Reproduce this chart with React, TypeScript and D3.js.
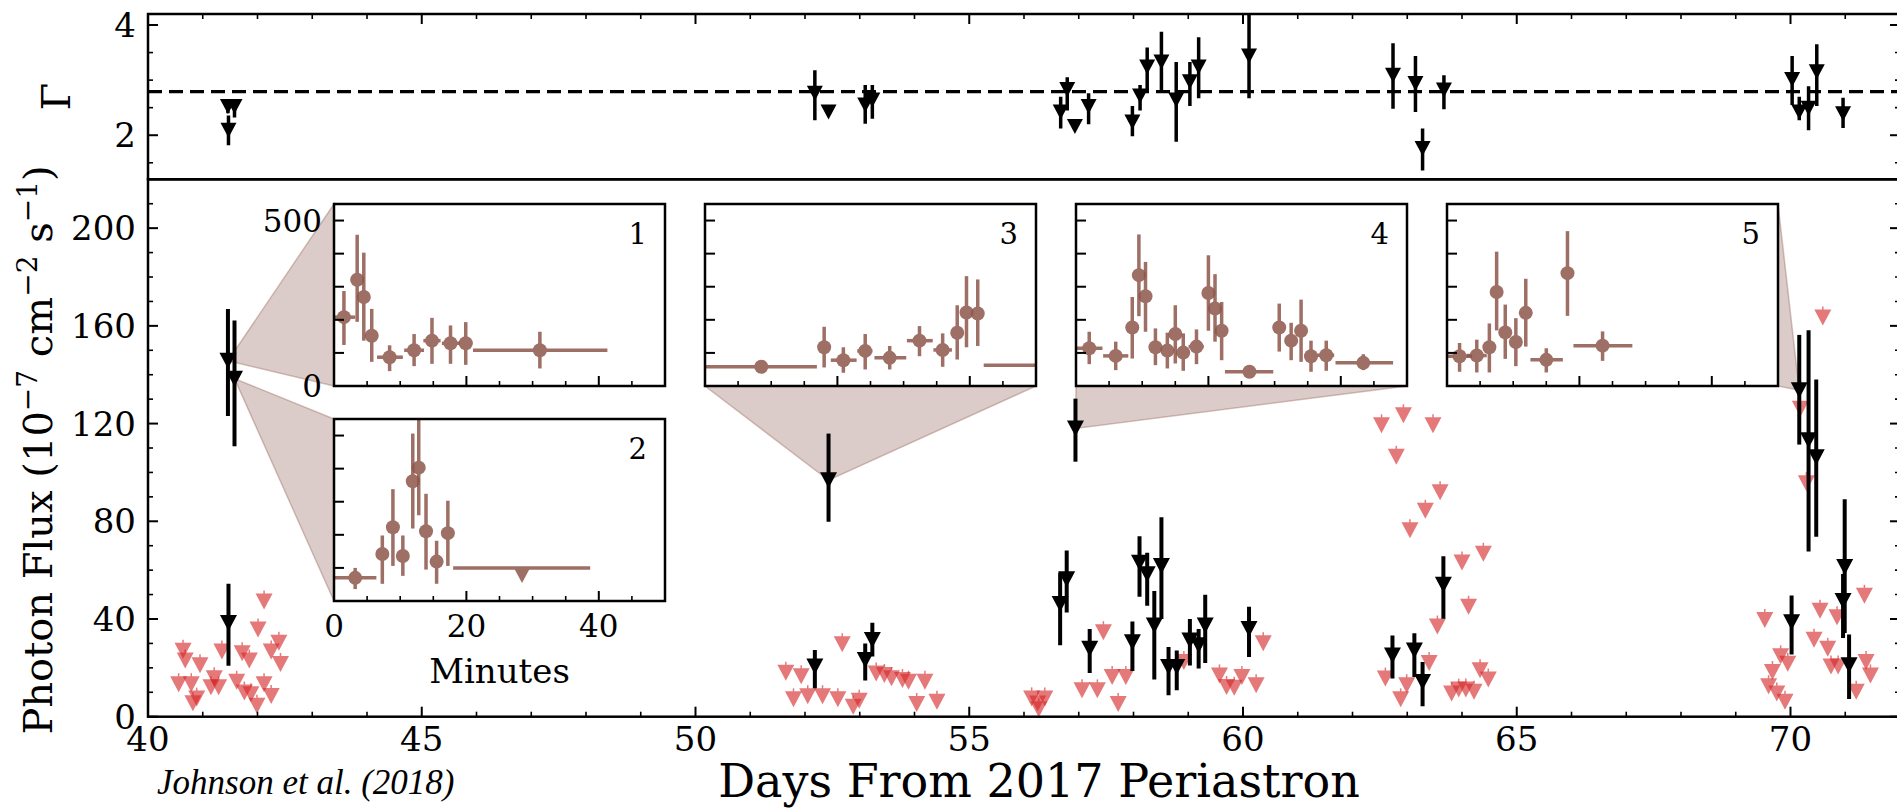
import React from "react";
import * as d3 from "d3";

// ---------- Photon index (top panel) ----------
const gammaDays = [41.46, 41.58, 41.47, 52.18, 52.43, 53.10, 53.23, 56.67, 56.79, 56.93, 57.18, 57.98, 58.12, 58.25, 58.51, 58.78, 59.03, 59.19, 60.11, 62.74, 63.15, 63.28, 63.67, 70.03, 70.16, 70.33, 70.48, 70.96];
const gammaValues = [2.52, 2.52, 2.09, 2.76, 2.42, 2.55, 2.64, 2.42, 2.83, 2.16, 2.52, 2.24, 2.71, 3.24, 3.33, 2.64, 2.97, 3.24, 3.44, 3.09, 2.94, 1.76, 2.82, 3.01, 2.42, 2.49, 3.15, 2.39];
const gammaLow = [2.40, 2.32, 1.82, 2.27, 2.42, 2.21, 2.30, 2.12, 2.45, 2.16, 2.20, 1.98, 2.45, 2.82, 2.82, 1.88, 2.53, 2.67, 2.67, 2.48, 2.42, 1.36, 2.47, 2.55, 2.27, 2.09, 2.53, 2.13];
const gammaHigh = [2.64, 2.64, 2.36, 3.18, 2.42, 2.91, 2.91, 2.70, 3.05, 2.16, 2.76, 2.53, 2.91, 3.59, 3.88, 3.33, 3.33, 3.78, 4.40, 3.67, 3.44, 2.12, 3.09, 3.44, 2.70, 2.89, 3.65, 2.68];
const gammaMean = 2.79;

// ---------- Detected photon flux (black) ----------
const fluxDays = [41.46, 41.58, 41.47, 52.18, 52.43, 53.10, 53.23, 56.66, 56.78, 56.94, 57.20, 57.98, 58.11, 58.25, 58.38, 58.51, 58.64, 58.79, 59.03, 59.19, 59.31, 60.11, 62.73, 63.13, 63.28, 63.66, 70.02, 70.16, 70.33, 70.47, 70.96, 70.99, 71.07];
const fluxValues = [145.7, 138.4, 38.4, 20.5, 96.8, 23.2, 31.4, 46.1, 56.3, 118.0, 27.8, 30.5, 63.0, 58.3, 37.3, 61.7, 20.3, 20.3, 31.2, 29.2, 37.3, 35.9, 25.1, 27.1, 14.2, 54.0, 38.7, 133.6, 113.2, 106.2, 47.4, 61.3, 21.1];
const fluxLow = [123.1, 110.7, 20.9, 11.6, 79.8, 14.8, 24.6, 29.2, 42.7, 104.4, 17.9, 18.7, 49.1, 45.4, 15.2, 40.0, 8.8, 10.8, 21.0, 19.7, 22.0, 24.4, 15.6, 16.3, 4.3, 40.1, 25.5, 111.4, 67.6, 73.7, 32.2, 34.3, 7.2];
const fluxHigh = [166.9, 162.2, 54.4, 27.3, 115.9, 30.0, 38.5, 59.0, 68.0, 130.2, 35.9, 39.0, 73.9, 67.1, 51.5, 81.6, 28.5, 27.1, 40.0, 35.9, 49.9, 45.0, 33.2, 34.2, 22.4, 65.7, 49.6, 156.3, 158.2, 138.0, 58.4, 89.0, 33.6];

// ---------- Upper limits (red) ----------
const limitDays = [
  40.64, 40.68, 40.95, 40.56, 40.79, 40.89, 40.82, 41.21, 41.29, 41.15, 41.35, 41.62, 41.72, 41.85, 41.76, 41.88, 41.99, 42.01, 42.12, 42.12, 42.25, 42.25, 42.39, 42.42,
  51.65, 51.93, 51.79, 52.05, 52.32, 52.60, 52.68, 52.88, 52.99, 53.30, 53.45, 53.58, 53.78, 53.89, 54.04, 54.19, 54.41,
  56.14, 56.25, 56.38, 56.27,
  57.06, 57.34, 57.45, 57.61, 57.86, 57.72, 58.92, 59.57, 59.70, 59.84, 59.98, 60.24, 60.37,
  62.53, 62.93, 63.47, 62.80, 63.60, 63.33, 63.05, 64.00, 64.39, 64.12, 63.55, 63.40, 62.60, 62.99, 62.88, 64.33, 64.48, 63.81, 63.94, 64.07, 64.22,
  69.53, 69.82, 69.95, 69.67, 69.60, 69.75, 69.90, 70.18, 70.29, 70.59, 70.54, 70.43, 70.68, 70.85, 70.74, 70.87, 71.35, 71.38, 71.46, 71.20,
];
const limitFlux = [
  27.0, 23.0, 21.1, 13.3, 13.3, 7.4, 5.5, 15.7, 12.1, 12.1, 26.7, 14.3, 26.0, 23.0, 9.9, 9.2, 4.5, 35.7, 47.2, 13.3, 26.7, 8.5, 30.3, 21.6,
  18.0, 16.6, 7.1, 8.4, 8.4, 7.1, 29.7, 4.1, 6.5, 17.7, 17.1, 15.7, 15.0, 14.3, 5.2, 14.3, 6.1,
  7.5, 5.4, 7.5, 3.0,
  10.8, 10.8, 34.6, 16.3, 16.3, 5.2, 22.4, 16.9, 12.2, 11.9, 16.3, 12.9, 30.1,
  119.3, 123.4, 119.3, 106.4, 91.9, 84.3, 76.3, 63.1, 66.7, 45.0, 36.9, 22.0, 15.6, 12.9, 7.1, 19.0, 15.2, 9.5, 11.1, 11.1, 10.2,
  39.6, 24.7, 21.7, 18.3, 12.5, 9.5, 6.1, 126.1, 95.6, 163.4, 43.4, 31.5, 27.8, 40.7, 20.6, 20.6, 49.5, 22.4, 16.9, 10.2,
];

// ---------- Zoomed light curves: [minute, minLo, minHi, flux, fluxLo, fluxHi] ----------
const curve1 = [
  [1.5, 0, 3.2, 208, 124, 287], [3.5, 3.5, 3.5, 321, 194, 457], [4.5, 4.5, 4.5, 269, 137, 403],
  [5.7, 5.7, 5.7, 152, 73, 233], [8.4, 6.5, 10.4, 87, 45, 123], [12.1, 10.6, 13.6, 108, 60, 157],
  [14.8, 13.5, 16.1, 137, 67, 206], [17.6, 16.3, 19.0, 129, 67, 183], [19.9, 19.0, 20.9, 129, 64, 193],
  [31.1, 21.0, 41.3, 108, 53, 164],
];
const curve2 = [
  [3.2, 0, 6.4, 70, 36, 100], [7.3, 7.3, 7.3, 142, 52, 198], [8.9, 8.9, 8.9, 223, 106, 338],
  [10.4, 10.4, 10.4, 136, 76, 198], [11.9, 11.9, 11.9, 362, 219, 506], [12.8, 12.8, 12.8, 403, 259, 600],
  [13.9, 13.9, 13.9, 211, 95, 324], [15.5, 15.5, 15.5, 119, 52, 182], [17.2, 17.2, 17.2, 205, 106, 303],
];
const curve2Limits = [[28.4, 18.0, 38.7, 100]];
const curve3 = [
  [8.5, -2, 16.9, 58, 52, 64], [18.0, 18.0, 18.0, 117, 56, 179], [20.9, 19.0, 22.9, 78, 40, 117],
  [24.2, 23.0, 25.3, 106, 50, 157], [27.9, 25.6, 30.4, 85, 50, 121], [32.4, 30.5, 34.4, 137, 90, 181],
  [35.9, 34.5, 37.3, 109, 58, 159], [38.1, 38.1, 38.1, 161, 80, 244], [39.5, 39.5, 39.5, 222, 117, 332],
  [41.2, 41.2, 41.2, 219, 121, 322], [56.0, 42.1, 70.0, 63, 63, 63],
];
const curve4 = [
  [2.0, 0, 4.0, 114, 66, 164], [6.0, 4.1, 7.9, 91, 48, 134], [8.5, 8.5, 8.5, 177, 83, 269],
  [9.5, 9.5, 9.5, 335, 211, 458], [10.5, 10.5, 10.5, 271, 164, 375], [12.0, 12.0, 12.0, 117, 63, 174],
  [13.8, 13.8, 13.8, 107, 53, 161], [15.0, 15.0, 15.0, 157, 68, 244], [16.2, 16.2, 16.2, 101, 46, 159],
  [18.2, 17.0, 19.3, 119, 66, 171], [20.0, 20.0, 20.0, 281, 167, 395], [21.0, 21.0, 21.0, 234, 134, 338],
  [22.0, 22.0, 22.0, 167, 78, 254], [26.2, 22.5, 29.8, 43, 38, 48], [30.7, 30.7, 30.7, 177, 104, 249],
  [32.5, 32.5, 32.5, 137, 78, 191], [34.0, 34.0, 34.0, 167, 73, 261], [35.5, 35.5, 35.5, 90, 43, 137],
  [37.8, 36.5, 39.0, 93, 46, 137], [43.4, 39.2, 47.9, 70, 48, 96],
];
const curve5 = [
  [1.9, 0, 3.8, 90, 43, 130], [4.5, 3.0, 6.0, 92, 41, 140], [6.4, 6.4, 6.4, 117, 41, 189],
  [7.5, 7.5, 7.5, 284, 168, 406], [8.8, 8.8, 8.8, 162, 82, 246], [10.4, 10.4, 10.4, 133, 60, 205],
  [11.9, 11.9, 11.9, 221, 119, 324], [15.0, 12.6, 17.5, 79, 41, 114], [18.2, 18.2, 18.2, 341, 212, 468],
  [23.5, 19.1, 28.0, 122, 76, 165],
];

// ---------- Tick labels ----------
const dayTicks = [40, 45, 50, 55, 60, 65, 70];
const fluxTicks = [0, 40, 80, 120, 160, 200];
const gammaTicks = [2, 4];
const minuteTicks = [0, 20, 40];
const insetFluxTicks = [0, 500];

// ---------- Layout ----------
const W = 1897;
const H = 809;
const L = 148;
const R = 1900;
const TOP = 14;
const SPLIT = 179.3;
const BOTTOM = 716.7;
const INSET_W = 331;
const INSET_H = 182;
const BLACK = "#000";
const RED = "#d62728";
const BROWN = "#8c564b";
const SERIF = "DejaVu Serif";

const x = d3.scaleLinear().domain([40, 72]).range([L, R]);
const yG = d3.scaleLinear().domain([1.2, 4.2]).range([SPLIT, TOP]);
const yF = d3.scaleLinear().domain([0, 220]).range([BOTTOM, SPLIT]);

// inset boxes: top-left corner, label, black point the zoom belongs to, wedge side
const insets = [
  { left: 334, top: 204, label: "1", data: curve1, limits: [], point: 0, side: "left" },
  { left: 334, top: 419, label: "2", data: curve2, limits: curve2Limits, point: 1, side: "left" },
  { left: 705, top: 204, label: "3", data: curve3, limits: [], point: 4, side: "bottom" },
  { left: 1076, top: 204, label: "4", data: curve4, limits: [], point: 9, side: "bottom" },
  { left: 1447, top: 204, label: "5", data: curve5, limits: [], point: 27, side: "right" },
];

const tri = (cx: number, cy: number, w: number, h: number) =>
  `M${cx - w / 2},${cy - h / 2}L${cx + w / 2},${cy - h / 2}L${cx},${cy + h / 2}Z`;

function Inset({ cfg, idx }: { cfg: any; idx: number }) {
  const { left, top } = cfg;
  const xs = d3.scaleLinear().domain([0, 50]).range([left, left + INSET_W]);
  const ys = d3.scaleLinear().domain([0, 550]).range([top + INSET_H, top]);
  const clipId = `inset-clip-${idx}`;
  const minorX = d3.range(5, 50, 5).filter((v) => v % 20 !== 0);
  const yTicks = d3.range(100, 501, 100);
  return (
    <g>
      <defs>
        <clipPath id={clipId}>
          <rect x={left} y={top} width={INSET_W} height={INSET_H} />
        </clipPath>
      </defs>
      <rect x={left} y={top} width={INSET_W} height={INSET_H} fill="#fff" />
      <g clipPath={`url(#${clipId})`}>
        {cfg.data.map((d: number[], i: number) => (
          <g key={i} opacity={0.85}>
            {d[1] !== d[2] && (
              <line x1={xs(d[1])} x2={xs(d[2])} y1={ys(d[3])} y2={ys(d[3])} stroke={BROWN} strokeWidth={3.5} />
            )}
            {d[4] !== d[5] && (
              <line x1={xs(d[0])} x2={xs(d[0])} y1={ys(d[4])} y2={ys(d[5])} stroke={BROWN} strokeWidth={3.5} />
            )}
            <circle cx={xs(d[0])} cy={ys(d[3])} r={7} fill={BROWN} />
          </g>
        ))}
        {cfg.limits.map((d: number[], i: number) => (
          <g key={`l${i}`} opacity={0.85}>
            <line x1={xs(d[1])} x2={xs(d[2])} y1={ys(d[3])} y2={ys(d[3])} stroke={BROWN} strokeWidth={3.5} />
            <path d={tri(xs(d[0]), ys(d[3]) + 8, 15, 14)} fill={BROWN} />
          </g>
        ))}
      </g>
      {yTicks.map((t) => (
        <line key={`y${t}`} x1={left} x2={left + 10} y1={ys(t)} y2={ys(t)} stroke={BLACK} strokeWidth={2} />
      ))}
      {minuteTicks.map((t) => (
        <line key={`xM${t}`} x1={xs(t)} x2={xs(t)} y1={top + INSET_H} y2={top + INSET_H - 10} stroke={BLACK} strokeWidth={2} />
      ))}
      {minorX.map((t) => (
        <line key={`xm${t}`} x1={xs(t)} x2={xs(t)} y1={top + INSET_H} y2={top + INSET_H - 5} stroke={BLACK} strokeWidth={1.6} />
      ))}
      <rect x={left} y={top} width={INSET_W} height={INSET_H} fill="none" stroke={BLACK} strokeWidth={2.5} />
      <text x={left + INSET_W - 18} y={top + 40} textAnchor="end" fontSize={29} fontFamily={SERIF}>
        {cfg.label}
      </text>
      {idx === 0 &&
        insetFluxTicks.map((t) => (
          <text key={t} x={left - 12} y={ys(t) + 11} textAnchor="end" fontSize={31} fontFamily={SERIF}>
            {t}
          </text>
        ))}
      {idx === 1 && (
        <g>
          {minuteTicks.map((t) => (
            <text key={t} x={xs(t)} y={top + INSET_H + 36} textAnchor="middle" fontSize={31} fontFamily={SERIF}>
              {t}
            </text>
          ))}
          <text x={left + INSET_W / 2} y={top + INSET_H + 82} textAnchor="middle" fontSize={34} fontFamily={SERIF}>
            Minutes
          </text>
        </g>
      )}
    </g>
  );
}

function wedge(cfg: any) {
  const px = x(fluxDays[cfg.point]);
  const py = yF(fluxValues[cfg.point]);
  const l = cfg.left;
  const r = cfg.left + INSET_W;
  const t = cfg.top;
  const b = cfg.top + INSET_H;
  if (cfg.side === "left") return `M${l},${t}L${px},${py}L${l},${b}Z`;
  if (cfg.side === "right") return `M${r},${t}L${px},${py}L${r},${b}Z`;
  return `M${l},${b}L${r},${b}L${px},${py}Z`;
}

export default function App() {
  const majorDays = d3.range(40, 72.01, 5);
  const minorDays = d3.range(40, 72.01, 1).filter((d) => d % 5 !== 0);
  const minorFlux = d3.range(0, 220.1, 10).filter((v) => v % 40 !== 0);
  const minorGamma = d3.range(1.5, 4.21, 0.5).filter((v) => v !== 2 && v !== 4);

  return (
    <div style={{ position: "absolute", left: 0, top: 0 }}>
      <svg width={W} height={H} viewBox={`0 0 ${W} ${H}`} style={{ display: "block", background: "#fff" }}>
        <defs>
          <clipPath id="gamma-clip">
            <rect x={L} y={TOP} width={R - L} height={SPLIT - TOP} />
          </clipPath>
          <clipPath id="flux-clip">
            <rect x={L} y={SPLIT} width={R - L} height={BOTTOM - SPLIT} />
          </clipPath>
        </defs>
        <rect x={0} y={0} width={W} height={H} fill="#fff" />

        {/* photon index panel */}
        <g clipPath="url(#gamma-clip)">
          <line x1={L} x2={R} y1={yG(gammaMean)} y2={yG(gammaMean)} stroke={BLACK} strokeWidth={3.3} strokeDasharray="14 7" />
          {gammaDays.map((d, i) => (
            <g key={i}>
              {gammaLow[i] !== gammaHigh[i] && (
                <line x1={x(d)} x2={x(d)} y1={yG(gammaLow[i])} y2={yG(gammaHigh[i])} stroke={BLACK} strokeWidth={3.5} />
              )}
              <path d={tri(x(d), yG(gammaValues[i]), 16, 15)} fill={BLACK} />
            </g>
          ))}
        </g>

        {/* flux panel */}
        <g clipPath="url(#flux-clip)">
          {limitDays.map((d, i) => (
            <g key={i} opacity={0.62}>
              <path d={tri(x(d), yF(limitFlux[i]), 17, 16)} fill={RED} />
              <line x1={x(d)} x2={x(d)} y1={yF(limitFlux[i]) - 11} y2={yF(limitFlux[i]) - 5} stroke={RED} strokeWidth={1.5} />
            </g>
          ))}
          {insets.map((c, i) => (
            <path key={i} d={wedge(c)} fill={BROWN} fillOpacity={0.3} stroke={BROWN} strokeOpacity={0.35} strokeWidth={1.5} />
          ))}
          {fluxDays.map((d, i) => (
            <g key={i}>
              <line x1={x(d)} x2={x(d)} y1={yF(fluxLow[i])} y2={yF(fluxHigh[i])} stroke={BLACK} strokeWidth={4} />
              <path d={tri(x(d), yF(fluxValues[i]), 17, 16)} fill={BLACK} />
            </g>
          ))}
        </g>

        {insets.map((c, i) => (
          <Inset key={i} cfg={c} idx={i} />
        ))}

        {/* ticks */}
        <g stroke={BLACK}>
          {majorDays.map((d) => (
            <g key={`M${d}`} strokeWidth={2}>
              <line x1={x(d)} x2={x(d)} y1={BOTTOM} y2={BOTTOM - 10} />
              <line x1={x(d)} x2={x(d)} y1={TOP} y2={TOP + 10} />
            </g>
          ))}
          {minorDays.map((d) => (
            <g key={`m${d}`} strokeWidth={1.6}>
              <line x1={x(d)} x2={x(d)} y1={BOTTOM} y2={BOTTOM - 5} />
              <line x1={x(d)} x2={x(d)} y1={TOP} y2={TOP + 5} />
            </g>
          ))}
          {fluxTicks.map((v) => (
            <g key={`F${v}`} strokeWidth={2}>
              <line x1={L} x2={L + 10} y1={yF(v)} y2={yF(v)} />
              <line x1={R} x2={R - 10} y1={yF(v)} y2={yF(v)} />
            </g>
          ))}
          {minorFlux.map((v) => (
            <g key={`f${v}`} strokeWidth={1.6}>
              <line x1={L} x2={L + 5} y1={yF(v)} y2={yF(v)} />
              <line x1={R} x2={R - 5} y1={yF(v)} y2={yF(v)} />
            </g>
          ))}
          {gammaTicks.map((v) => (
            <g key={`G${v}`} strokeWidth={2}>
              <line x1={L} x2={L + 10} y1={yG(v)} y2={yG(v)} />
              <line x1={R} x2={R - 10} y1={yG(v)} y2={yG(v)} />
            </g>
          ))}
          {minorGamma.map((v) => (
            <g key={`g${v}`} strokeWidth={1.6}>
              <line x1={L} x2={L + 5} y1={yG(v)} y2={yG(v)} />
              <line x1={R} x2={R - 5} y1={yG(v)} y2={yG(v)} />
            </g>
          ))}
        </g>

        {/* frames */}
        <rect x={L} y={TOP} width={R - L} height={SPLIT - TOP} fill="none" stroke={BLACK} strokeWidth={2.5} />
        <rect x={L} y={SPLIT} width={R - L} height={BOTTOM - SPLIT} fill="none" stroke={BLACK} strokeWidth={2.5} />

        {/* tick labels */}
        <g fontFamily={SERIF} fontSize={34} fill={BLACK}>
          {dayTicks.map((d) => (
            <text key={d} x={x(d)} y={751} textAnchor="middle">
              {d}
            </text>
          ))}
          {fluxTicks.map((v) => (
            <text key={v} x={136} y={yF(v) + 12} textAnchor="end">
              {v}
            </text>
          ))}
          {gammaTicks.map((v) => (
            <text key={v} x={136} y={yG(v) + 12} textAnchor="end">
              {v}
            </text>
          ))}
        </g>

        {/* axis titles */}
        <text x={(L + R) / 2 + 15} y={797} textAnchor="middle" fontFamily={SERIF} fontSize={46}>
          Days From 2017 Periastron
        </text>
        <text transform={`translate(52, ${(SPLIT + BOTTOM) / 2 + 2}) rotate(-90)`} textAnchor="middle" fontFamily={SERIF} fontSize={40}>
          Photon Flux (10
          <tspan dy={-15} fontSize={28}>−7</tspan>
          <tspan dy={15}> cm</tspan>
          <tspan dy={-15} fontSize={28}>−2</tspan>
          <tspan dy={15}> s</tspan>
          <tspan dy={-15} fontSize={28}>−1</tspan>
          <tspan dy={15}>)</tspan>
        </text>
        <text transform={`translate(70, ${(TOP + SPLIT) / 2}) rotate(-90)`} textAnchor="middle" fontFamily={SERIF} fontSize={40}>
          Γ
        </text>
        <text x={157} y={794} fontFamily="Liberation Serif" fontStyle="italic" fontSize={35}>
          Johnson et al. (2018)
        </text>
      </svg>
    </div>
  );
}
